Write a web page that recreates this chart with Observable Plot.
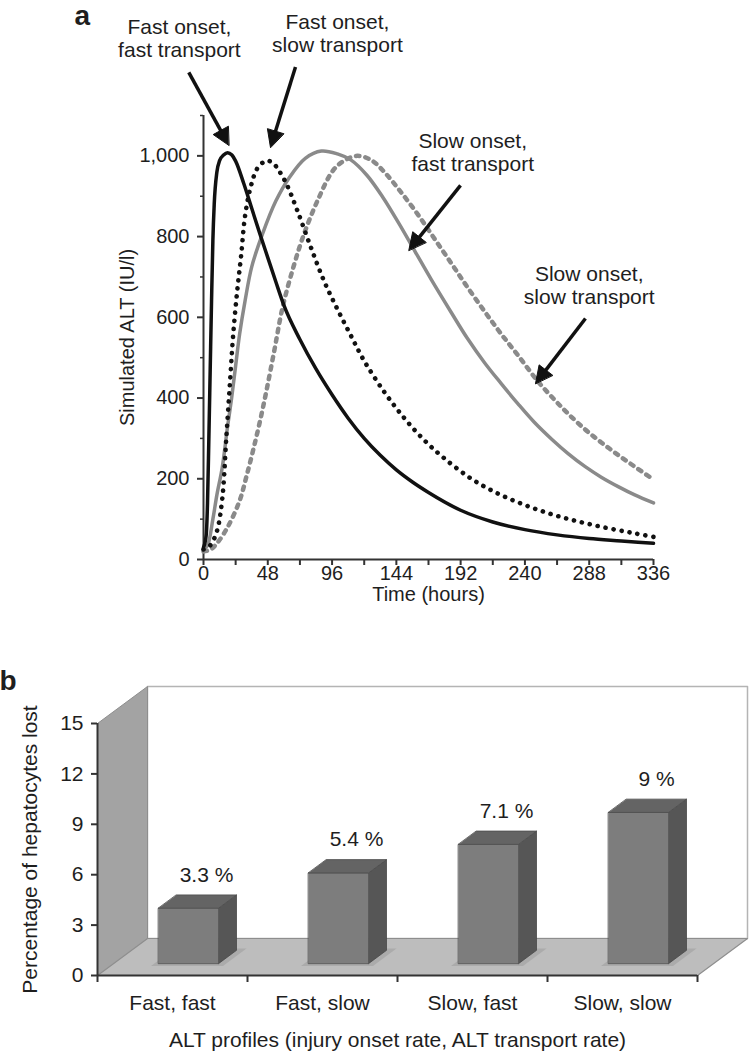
<!DOCTYPE html>
<html>
<head>
<meta charset="utf-8">
<script src="https://cdn.jsdelivr.net/npm/d3@7"></script>
<script src="https://cdn.jsdelivr.net/npm/@observablehq/plot@0.6"></script>
<style>
  html, body { margin: 0; padding: 0; background: #fff; }
  #wrap { width: 750px; height: 1052px; overflow: hidden; }
  #wrap svg { display: block; }
</style>
</head>
<body>
<div id="wrap"></div>
<script>
// ---------------- DATA: panel a (simulated ALT, IU/l, vs time in hours) ----------------
const profileNames = ["Fast onset, fast transport", "Fast onset, slow transport", "Slow onset, fast transport", "Slow onset, slow transport"];

const ffTime = [0, 2, 3, 4, 5, 6, 7, 8, 10, 12, 15, 18, 21, 24, 30, 36, 42, 48, 54, 60, 72, 84, 96, 108, 120, 132, 144, 156, 168, 192, 216, 240, 264, 288, 312, 336];
const ffALT  = [30, 60, 140, 300, 470, 640, 790, 880, 960, 988, 1002, 1008, 1003, 987, 932, 870, 808, 748, 688, 630, 545, 472, 408, 350, 300, 258, 222, 192, 166, 122, 93, 74, 61, 52, 46, 40];

const fsTime = [0, 5, 10, 14, 17, 20, 22, 25, 28, 31, 35, 40, 45, 48, 52, 56, 62, 70, 80, 90, 100, 110, 120, 135, 150, 165, 180, 200, 220, 240, 260, 280, 300, 320, 336];
const fsALT  = [25, 35, 70, 150, 300, 450, 550, 660, 750, 850, 920, 968, 985, 988, 982, 965, 930, 865, 775, 690, 620, 555, 492, 415, 350, 295, 250, 200, 163, 135, 112, 94, 79, 66, 56];

const sfTime = [0, 3, 7, 10, 14, 18, 21, 24, 27, 31, 36, 44, 54, 64, 76, 88, 100, 110, 122, 134, 146, 158, 170, 185, 197, 210, 222, 235, 247, 260, 272, 285, 297, 310, 322, 336];
const sfALT  = [25, 35, 100, 160, 228, 330, 400, 480, 559, 640, 725, 806, 888, 946, 994, 1012, 1005, 990, 952, 897, 832, 763, 694, 612, 548, 487, 437, 385, 340, 298, 263, 230, 204, 180, 160, 140];

const ssTime = [0, 5, 10, 18, 27, 32, 37, 42, 47, 53, 59, 67, 75, 85, 97, 106, 115, 125, 135, 147, 160, 172, 185, 197, 210, 222, 235, 250, 262, 272, 285, 297, 310, 322, 336];
const ssALT  = [20, 24, 40, 80, 146, 205, 270, 340, 418, 520, 624, 723, 806, 888, 965, 990, 1000, 990, 960, 912, 855, 797, 734, 675, 614, 560, 505, 440, 396, 362, 322, 290, 258, 230, 198];

const xTickValues = [0, 24, 48, 72, 96, 120, 144, 168, 192, 216, 240, 264, 288, 312, 336];
const yTickMajor = [0, 200, 400, 600, 800, 1000];
const yTickMinor = [100, 300, 500, 700, 900, 1100];

// annotation labels (two lines each)
const annoLine1 = ["Fast onset,", "Fast onset,", "Slow onset,", "Slow onset,"];
const annoLine2 = ["fast transport", "slow transport", "fast transport", "slow transport"];

// ---------------- DATA: panel b ----------------
const categories = ["Fast, fast", "Fast, slow", "Slow, fast", "Slow, slow"];
const hepatocytesLost = [3.3, 5.4, 7.1, 9.0];
const barLabels = ["3.3 %", "5.4 %", "7.1 %", "9 %"];
const yTicksB = [0, 3, 6, 9, 12, 15];

// ---------------- layout / style ----------------
const fontFamily = '"Liberation Sans", Arial, Helvetica, sans-serif';
const ink = "#1e1e1e";

// Panel a geometry
const A = {width: 750, height: 620, ml: 203, mr: 97, mt: 115, mb: 61};
const kxA = (A.width - A.ml - A.mr) / 336;     // px per hour
const kyA = (A.height - A.mt - A.mb) / 1100;   // px per IU/l

// annotation anchor positions (data coords)
const annoPos = [
  {time: -18, alt: 1291},
  {time: 100, alt: 1302},
  {time: 201, alt: 1007},
  {time: 288, alt: 677}
];
const arrowDefs = [
  {fromT: -11, fromV: 1207, toT: 18.9, toV: 1026},
  {fromT: 68.7, fromV: 1220, toT: 50, toV: 1021},
  {fromT: 191.9, fromV: 927, toT: 153.3, toV: 766},
  {fromT: 285.2, fromV: 597, toT: 247.9, toV: 436}
];

function series(name, times, values) {
  return times.map((t, i) => ({profile: name, time: t, alt: values[i]}));
}
const ffRows = series(profileNames[0], ffTime, ffALT);
const fsRows = series(profileNames[1], fsTime, fsALT);
const sfRows = series(profileNames[2], sfTime, sfALT);
const ssRows = series(profileNames[3], ssTime, ssALT);

// arrow shafts and filled heads, built in data space from pixel sizes
const headLen = 17, headHalf = 8.5;
const shafts = [];
const heads = [];
arrowDefs.forEach((a, i) => {
  const px = (a.toT - a.fromT) * kxA, py = -(a.toV - a.fromV) * kyA;
  const len = Math.hypot(px, py);
  const ux = px / len, uy = py / len;
  const toData = (dxp, dyp) => ({time: a.toT + dxp / kxA, alt: a.toV - dyp / kyA});
  const base = toData(-ux * (headLen - 2), -uy * (headLen - 2));
  shafts.push({x1: a.fromT, y1: a.fromV, x2: base.time, y2: base.alt});
  const tip = toData(0, 0);
  const l = toData(-ux * headLen - uy * headHalf, -uy * headLen + ux * headHalf);
  const r = toData(-ux * headLen + uy * headHalf, -uy * headLen - ux * headHalf);
  [tip, l, r].forEach(p => heads.push({id: i, time: p.time, alt: p.alt}));
});

const annoRows = annoPos.map((p, i) => ({time: p.time, alt: p.alt, l1: annoLine1[i], l2: annoLine2[i]}));

const chartA = Plot.plot({
  width: A.width, height: A.height,
  marginLeft: A.ml, marginRight: A.mr, marginTop: A.mt, marginBottom: A.mb,
  style: {fontFamily, fontSize: "20px", color: ink, background: "white", overflow: "visible"},
  x: {domain: [0, 336], ticks: xTickValues, tickFormat: d => (d % 48 === 0 ? String(d) : ""), tickSize: 0, tickPadding: 6, label: null},
  y: {domain: [0, 1100], ticks: yTickMajor, tickFormat: d => d3.format(",")(d), tickSize: 0, tickPadding: 14, label: null},
  marks: [
    // axis lines and ticks
    Plot.ruleX([0], {y1: 0, y2: 1100, stroke: "#333", strokeWidth: 2}),
    Plot.ruleY([0], {x1: 0, x2: 336, stroke: "#333", strokeWidth: 2}),
    Plot.ruleX(xTickValues, {x: d => d, y1: 0, y2: -6 / kyA, stroke: "#333", strokeWidth: 2}),
    Plot.ruleY(yTickMajor, {y: d => d, x1: 0, x2: -6 / kxA, stroke: "#333", strokeWidth: 2}),
    Plot.ruleY(yTickMinor, {y: d => d, x1: 0, x2: -3 / kxA, stroke: "#333", strokeWidth: 1.5}),
    // curves
    Plot.line(ssRows, {x: "time", y: "alt", curve: "catmull-rom", stroke: "#8a8a8a", strokeWidth: 4.5, strokeDasharray: "3.5 6"}),
    Plot.line(sfRows, {x: "time", y: "alt", curve: "catmull-rom", stroke: "#8a8a8a", strokeWidth: 3.5}),
    Plot.line(fsRows, {x: "time", y: "alt", curve: "catmull-rom", stroke: "#111", strokeWidth: 4.6, strokeDasharray: "0.1 8", strokeLinecap: "round"}),
    Plot.line(ffRows, {x: "time", y: "alt", curve: "monotone-x", stroke: "#111", strokeWidth: 3.5}),
    // arrows
    Plot.link(shafts, {x1: "x1", y1: "y1", x2: "x2", y2: "y2", stroke: "#111", strokeWidth: 3.5}),
    Plot.line(heads, {x: "time", y: "alt", z: "id", curve: "linear-closed", fill: "#111", stroke: "#111", strokeWidth: 1}),
    // annotations
    Plot.text(annoRows, {x: "time", y: "alt", text: "l1", dy: -11.5, fontSize: 21, fill: ink}),
    Plot.text(annoRows, {x: "time", y: "alt", text: "l2", dy: 11.5, fontSize: 21, fill: ink}),
    // axis titles and panel letter
    Plot.text(["Time (hours)"], {text: d => d, frameAnchor: "bottom", dy: 41, fontSize: 20, fill: ink}),
    Plot.text(["Simulated ALT (IU/l)"], {text: d => d, frameAnchor: "left", textAnchor: "middle", dx: -76, rotate: -90, fontSize: 20, fill: ink}),
    Plot.text(["a"], {text: d => d, frameAnchor: "top-left", dx: -129, dy: -110, textAnchor: "start", fontSize: 28, fontWeight: "bold", fill: ink})
  ]
});

// ---------------- Panel b (pseudo-3D bars) ----------------
const B = {width: 750, height: 432, ml: 97, mr: 53, mt: 103, mb: 77};
const kxB = (B.width - B.ml - B.mr) / 4;   // px per category
const kyB = (B.height - B.mt - B.mb) / 15; // px per percent
const depthX = 50 / kxB, depthY = 37 / kyB;  // full depth of the box
const P = (x, y, d) => ({x: x + d * depthX, y: y + d * depthY});
const poly = (id, pts) => pts.map(p => ({id, x: p.x, y: p.y}));

const backWall = poly("back", [P(0, 0, 1), P(4, 0, 1), P(4, 15, 1), P(0, 15, 1)]);
const leftWall = poly("left", [P(0, 0, 0), P(0, 15, 0), P(0, 15, 1), P(0, 0, 1)]);
const floorPoly = poly("floor", [P(0, 0, 0), P(4, 0, 0), P(4, 0, 1), P(0, 0, 1)]);

const hw = 0.2, d0 = 0.32, d1 = 0.68;
const fronts = [], tops = [], sides = [], shadows = [], labelRows = [];
hepatocytesLost.forEach((v, i) => {
  const c = i + 0.5;
  shadows.push(...poly("s" + i, [P(c - hw - 0.03, 0, d0 - 0.06), P(c + hw + 0.05, 0, d0 - 0.06), P(c + hw + 0.05, 0, d1 + 0.05), P(c - hw - 0.03, 0, d1 + 0.05)]));
  fronts.push(...poly("f" + i, [P(c - hw, 0, d0), P(c + hw, 0, d0), P(c + hw, v, d0), P(c - hw, v, d0)]));
  tops.push(...poly("t" + i, [P(c - hw, v, d0), P(c + hw, v, d0), P(c + hw, v, d1), P(c - hw, v, d1)]));
  sides.push(...poly("d" + i, [P(c + hw, 0, d0), P(c + hw, 0, d1), P(c + hw, v, d1), P(c + hw, v, d0)]));
  const lp = P(c, v, d1);
  labelRows.push({x: lp.x, y: lp.y, label: barLabels[i]});
});
const catRows = categories.map((c, i) => ({x: i + 0.5, label: c}));

const chartB = Plot.plot({
  width: B.width, height: B.height,
  marginLeft: B.ml, marginRight: B.mr, marginTop: B.mt, marginBottom: B.mb,
  style: {fontFamily, fontSize: "21px", color: ink, background: "white", overflow: "visible"},
  x: {domain: [0, 4], axis: null},
  y: {domain: [0, 15], ticks: yTicksB, tickSize: 0, tickPadding: 14, label: null},
  marks: [
    Plot.line(backWall, {x: "x", y: "y", z: "id", curve: "linear-closed", fill: "white", stroke: "#b4b4b4", strokeWidth: 1.5}),
    Plot.line(leftWall, {x: "x", y: "y", z: "id", curve: "linear-closed", fill: "#a3a3a3", stroke: "#8e8e8e", strokeWidth: 1}),
    Plot.line(floorPoly, {x: "x", y: "y", z: "id", curve: "linear-closed", fill: "#bdbdbd", stroke: "#8e8e8e", strokeWidth: 1.2}),
    Plot.line(shadows, {x: "x", y: "y", z: "id", curve: "linear-closed", fill: "#a6a6a6", fillOpacity: 0.8, stroke: "none"}),
    Plot.line(sides, {x: "x", y: "y", z: "id", curve: "linear-closed", fill: "#565656", stroke: "#474747", strokeWidth: 0.8}),
    Plot.line(fronts, {x: "x", y: "y", z: "id", curve: "linear-closed", fill: "#7d7d7d", stroke: "#555", strokeWidth: 0.8}),
    Plot.line(tops, {x: "x", y: "y", z: "id", curve: "linear-closed", fill: "#646464", stroke: "#4c4c4c", strokeWidth: 0.8}),
    // axes
    Plot.ruleX([0], {y1: 0, y2: 15, stroke: "#333", strokeWidth: 2}),
    Plot.ruleY([0], {x1: 0, x2: 4, stroke: "#333", strokeWidth: 2}),
    Plot.ruleY(yTicksB, {y: d => d, x1: 0, x2: -6 / kxB, stroke: "#333", strokeWidth: 2}),
    Plot.ruleX([0, 1, 2, 3, 4], {x: d => d, y1: 0, y2: -7 / kyB, stroke: "#333", strokeWidth: 2}),
    // labels
    Plot.text(labelRows, {x: "x", y: "y", text: "label", dy: -20, fontSize: 21, fill: ink}),
    Plot.text(catRows, {x: "x", y: () => 0, text: "label", dy: 28, fontSize: 21, fill: ink}),
    Plot.text(["ALT profiles (injury onset rate, ALT transport rate)"], {text: d => d, frameAnchor: "bottom", dy: 71, fontSize: 21, fill: ink}),
    Plot.text(["Percentage of hepatocytes lost"], {text: d => d, frameAnchor: "left", textAnchor: "middle", dx: -67, rotate: -90, fontSize: 21, fill: ink}),
    Plot.text(["b"], {text: d => d, frameAnchor: "top-left", dx: -98, dy: -53, textAnchor: "start", fontSize: 28, fontWeight: "bold", fill: ink})
  ]
});

const wrap = document.getElementById("wrap");
wrap.appendChild(chartA);
wrap.appendChild(chartB);
</script>
</body>
</html>
